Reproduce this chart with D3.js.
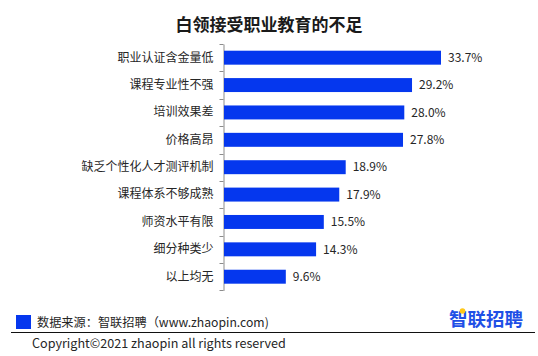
<!DOCTYPE html>
<html><head><meta charset="utf-8">
<script src="https://cdn.jsdelivr.net/npm/d3@7"></script>
<style>
html,body{margin:0;padding:0;background:#fff;}
svg{display:block;}
text{font-family:"Microsoft YaHei","Noto Sans CJK SC","Noto Sans",sans-serif;}
</style></head>
<body>
<script>
const categories = ["职业认证含金量低","课程专业性不强","培训效果差","价格高昂","缺乏个性化人才测评机制","课程体系不够成熟","师资水平有限","细分种类少","以上均无"];
const values = [33.7, 29.2, 28.0, 27.8, 18.9, 17.9, 15.5, 14.3, 9.6];
const valueLabels = ["33.7%","29.2%","28.0%","27.8%","18.9%","17.9%","15.5%","14.3%","9.6%"];
const titleText = "白领接受职业教育的不足";
const sourceText = "数据来源：智联招聘（www.zhaopin.com)";
const copyrightText = "Copyright©2021 zhaopin all rights reserved";
const logoText = "智联招聘";

const W = 538, H = 356;
const svg = d3.select("body").append("svg").attr("width", W).attr("height", H);

const x = d3.scaleLinear().domain([0, 33.7]).range([224, 441]);
const y = d3.scaleBand().domain(categories).range([44, 290.4]).paddingInner(0.49).paddingOuter(0.245);
const barColor = "#0537ee";

svg.append("text").attr("x", 269).attr("y", 31).attr("text-anchor", "middle")
  .attr("font-size", 17).attr("font-weight", "bold").attr("fill", "#1a1a1a").text(titleText);

// axis
const axis = d3.axisLeft(y).tickSize(0).tickPadding(10);
const gAxis = svg.append("g").attr("transform", "translate(223.5,0)").call(axis);
gAxis.select(".domain").attr("stroke", "#8c8c8c");
gAxis.selectAll(".tick text").attr("font-size", 12).attr("fill", "#262626")
  .style("font-family", '"Microsoft YaHei","Noto Sans CJK SC",sans-serif');
// ticks between categories
const step = y.step();
const boundaries = d3.range(categories.length + 1).map(i => 44 + i * step);
svg.append("g").selectAll("line").data(boundaries).join("line")
  .attr("x1", 219.5).attr("x2", 223.5)
  .attr("y1", d => Math.round(d) + 0.5).attr("y2", d => Math.round(d) + 0.5)
  .attr("stroke", "#8c8c8c");

svg.append("g").selectAll("rect").data(values).join("rect")
  .attr("x", x(0))
  .attr("y", (d, i) => y(categories[i]))
  .attr("width", d => x(d) - x(0))
  .attr("height", y.bandwidth())
  .attr("fill", barColor);

svg.append("g").selectAll("text").data(values).join("text")
  .attr("x", d => x(d) + 7)
  .attr("y", (d, i) => y(categories[i]) + y.bandwidth() / 2)
  .attr("dy", "0.35em")
  .attr("font-size", 12).attr("fill", "#262626")
  .text((d, i) => valueLabels[i]);

// footer
svg.append("rect").attr("x", 16).attr("y", 315).attr("width", 15).attr("height", 14).attr("fill", barColor);
svg.append("text").attr("x", 37).attr("y", 327).attr("font-size", 12.2).attr("fill", "#262626").text(sourceText);
svg.append("line").attr("x1", 11).attr("x2", 535).attr("y1", 332.5).attr("y2", 332.5).attr("stroke", "#111").attr("stroke-width", 1.2);
svg.append("text").attr("x", 32).attr("y", 348).attr("font-size", 12.6).attr("fill", "#262626").text(copyrightText);

// logo
svg.append("text").attr("x", 449).attr("y", 326).attr("font-size", 18.5).attr("font-weight", "bold")
  .attr("fill", "#1f4fe6").attr("textLength", 74).text(logoText);
svg.append("circle").attr("cx", 462.5).attr("cy", 311).attr("r", 2.8).attr("fill", "#ffc81a");
</script>
</body></html>
